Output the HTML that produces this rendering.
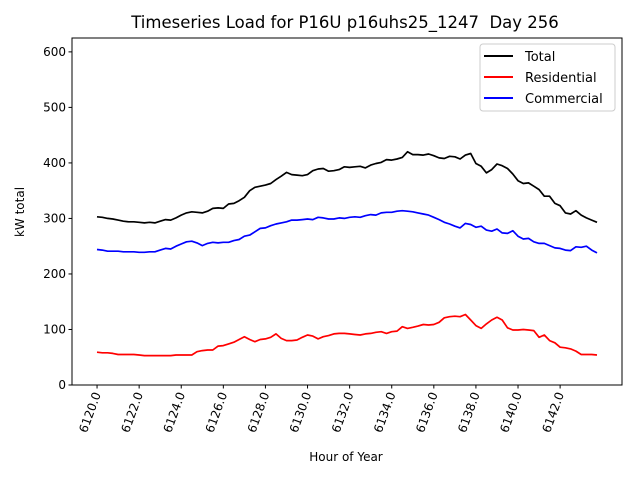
<!DOCTYPE html>
<html><head><meta charset="utf-8"><style>
body{margin:0;background:#fff;font-family:"DejaVu Sans","Liberation Sans",sans-serif}
svg text{font-family:"DejaVu Sans","Liberation Sans",sans-serif;fill:#000}
</style></head><body>
<svg id="chart" width="640" height="480" viewBox="0 0 640 480">
<text x="345" y="28" font-size="16.5" text-anchor="middle" style="white-space:pre" xml:space="preserve">Timeseries Load for P16U p16uhs25_1247  Day 256</text>
<g id="plot"></g>
<text x="346" y="461" font-size="12" text-anchor="middle">Hour of Year</text>
<text transform="translate(24,212) rotate(-90)" font-size="12" text-anchor="middle">kW total</text>
</svg>
<script>
const xStart = 6120, xStep = 0.25;
const xTicks = [6120,6122,6124,6126,6128,6130,6132,6134,6136,6138,6140,6142];
const yTicks = [0,100,200,300,400,500,600];
const total = [303,302,300,299,297,295,294,294,293,292,293,292,295,298,297,301,306,310,312,311,310,313,318,319,318,326,327,332,338,350,356,358,360,363,370,376,383,379,378,377,379,386,389,390,385,386,388,393,392,393,394,391,396,399,401,406,405,407,410,420,415,415,414,416,413,409,408,412,411,407,414,417,399,394,382,388,398,395,390,380,368,363,364,358,352,340,340,327,323,310,308,314,306,301,297,293];
const residential = [59,58,58,57,55,55,55,55,54,53,53,53,53,53,53,54,54,54,54,60,62,63,63,70,71,74,77,82,87,82,78,82,83,86,92,84,80,80,81,86,90,88,83,87,89,92,93,93,92,91,90,92,93,95,96,93,96,97,105,102,104,106,109,108,109,113,121,123,124,123,127,117,107,102,110,117,122,117,103,99,99,100,99,98,86,90,80,76,68,67,65,61,55,55,55,54];
const commercial = [244,243,241,241,241,240,240,240,239,239,240,240,243,246,245,250,254,258,259,256,251,255,257,256,257,257,260,262,268,270,276,282,283,287,290,292,294,297,297,298,299,298,302,301,299,299,301,300,302,303,302,305,307,306,310,311,311,313,314,313,312,310,308,306,302,298,293,290,286,283,291,289,284,286,279,277,281,274,273,278,268,263,264,258,255,255,251,247,246,243,242,249,248,250,243,238];
const L=72,R=622,T=38,B=385;
const xMin=6118.81,xMax=6144.94,yMin=0,yMax=625;
const sx=v=>L+(v-xMin)/(xMax-xMin)*(R-L);
const sy=v=>B-(v-yMin)/(yMax-yMin)*(B-T);
const NS='http://www.w3.org/2000/svg';
const g=document.getElementById('plot');
function mk(tag,attrs,parent){const e=document.createElementNS(NS,tag);for(const k in attrs)e.setAttribute(k,attrs[k]);(parent||g).appendChild(e);return e;}
const series=[[total,'#000','total-line'],[residential,'#ff0000','residential-line'],[commercial,'#0000ff','commercial-line']];
series.forEach(([d,c,n])=>{
  const pts=d.map((v,i)=>sx(xStart+i*xStep).toFixed(1)+','+sy(v).toFixed(1)).join(' ');
  const p=mk('polyline',{points:pts,fill:'none',stroke:c,'stroke-width':1.7,'stroke-linejoin':'round'});
  
  
});
const frame=mk('rect',{x:L,y:T,width:R-L,height:B-T,fill:'none',stroke:'#000','stroke-width':1});


yTicks.forEach(v=>{
  const y=sy(v);
  mk('line',{x1:L-3.5,x2:L,y1:y,y2:y,stroke:'#000'});
  const t=mk('text',{x:L-6,y:y+4,'font-size':12,'text-anchor':'end'});t.textContent=v;
  
  
});
xTicks.forEach(v=>{
  const x=sx(v);
  mk('line',{x1:x,x2:x,y1:B,y2:B+3.5,stroke:'#000'});
  const t=mk('text',{transform:`translate(${x+4},${B+9}) rotate(-70)`,'font-size':12,'text-anchor':'end'});t.textContent=v.toFixed(1);
  
  
});
const lg=mk('g',{});


mk('rect',{x:480,y:44,width:135,height:67,rx:3,fill:'#fff',stroke:'#ccc'},lg);
[['Total','#000'],['Residential','#ff0000'],['Commercial','#0000ff']].forEach(([n,c],i)=>{
  const y=56+i*21;
  const e=mk('g',{},lg);
  
  
  mk('line',{x1:484,x2:513,y1:y,y2:y,stroke:c,'stroke-width':2},e);
  const t=mk('text',{x:525,y:y+5,'font-size':13},e);t.textContent=n;
});
</script>
</body></html>
